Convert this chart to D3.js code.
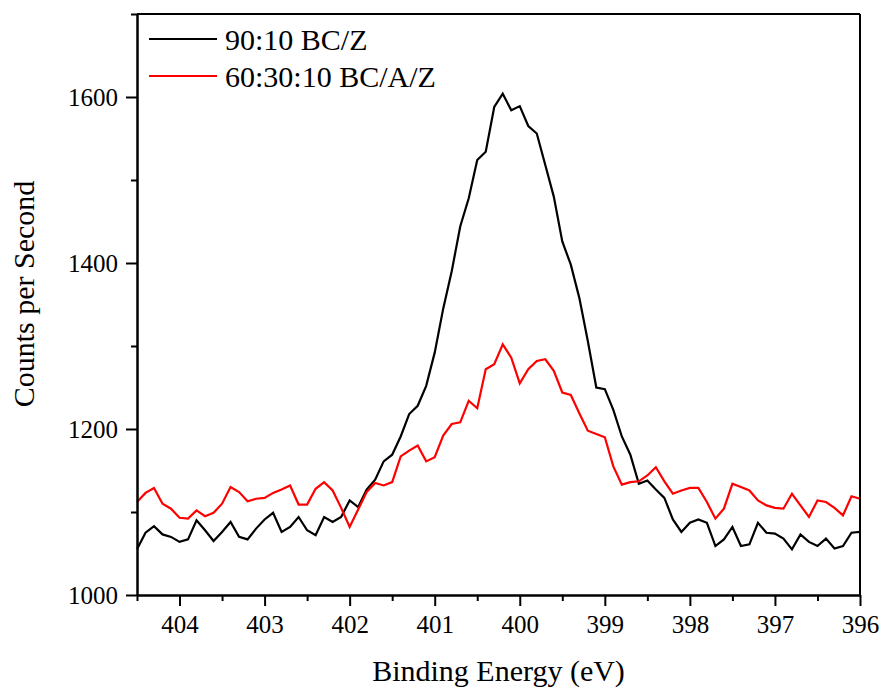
<!DOCTYPE html>
<html>
<head>
<meta charset="utf-8">
<script src="https://cdn.jsdelivr.net/npm/d3@7"></script>
<style>
  html, body { margin: 0; padding: 0; background: #fff; }
  svg { display: block; font-family: "Liberation Serif", "Times New Roman", serif; }
</style>
</head>
<body>
<svg id="chart" width="884" height="689"></svg>
<script>
// Binding energy (eV), 0.1 eV steps
const energy = [
  404.5, 404.4, 404.3, 404.2, 404.1, 404.0, 403.9, 403.8, 403.7, 403.6,
  403.5, 403.4, 403.3, 403.2, 403.1, 403.0, 402.9, 402.8, 402.7, 402.6,
  402.5, 402.4, 402.3, 402.2, 402.1, 402.0, 401.9, 401.8, 401.7, 401.6,
  401.5, 401.4, 401.3, 401.2, 401.1, 401.0, 400.9, 400.8, 400.7, 400.6,
  400.5, 400.4, 400.3, 400.2, 400.1, 400.0, 399.9, 399.8, 399.7, 399.6,
  399.5, 399.4, 399.3, 399.2, 399.1, 399.0, 398.9, 398.8, 398.7, 398.6,
  398.5, 398.4, 398.3, 398.2, 398.1, 398.0, 397.9, 397.8, 397.7, 397.6,
  397.5, 397.4, 397.3, 397.2, 397.1, 397.0, 396.9, 396.8, 396.7, 396.6,
  396.5, 396.4, 396.3, 396.2, 396.1, 396.0
];

// Counts per second, 90:10 BC/Z
const cpsBCZ = [
  1055, 1075, 1083, 1073, 1070, 1064, 1067, 1090, 1078, 1065,
  1076, 1088, 1070, 1067, 1080, 1091, 1099, 1076, 1082, 1094,
  1078, 1072, 1094, 1088, 1094, 1114, 1106, 1127, 1139, 1161,
  1169, 1191, 1218, 1228, 1252, 1292, 1345, 1390, 1444, 1478,
  1524, 1534, 1588, 1604, 1584, 1589, 1565, 1556, 1518, 1480,
  1426, 1398, 1358, 1306, 1250, 1248, 1223, 1191, 1169, 1134,
  1138, 1127, 1117, 1091, 1076, 1087, 1091, 1087, 1059, 1067,
  1082, 1059, 1061, 1087, 1075, 1074, 1068, 1055, 1073, 1064,
  1059, 1068, 1056, 1059, 1075, 1076
];

// Counts per second, 60:30:10 BC/A/Z
const cpsBCAZ = [
  1112, 1123, 1129, 1110, 1104, 1093, 1092, 1102, 1095, 1099,
  1110, 1130, 1124, 1113, 1116, 1117, 1123, 1127, 1132, 1109,
  1109, 1128, 1136, 1126, 1105, 1082, 1103, 1124, 1135, 1132,
  1136, 1167, 1174, 1180, 1161, 1166, 1192, 1206, 1208, 1234,
  1225, 1272, 1278, 1302, 1286, 1255, 1272, 1282, 1284, 1270,
  1244, 1241, 1219, 1198, 1194, 1190, 1155, 1133, 1136, 1137,
  1144, 1154, 1137, 1122, 1126, 1129, 1129, 1112, 1092, 1104,
  1134, 1130, 1126, 1114, 1108, 1105, 1104, 1122, 1108, 1094,
  1114, 1112, 1105, 1096, 1119, 1116
];

const seriesNames = ["90:10 BC/Z", "60:30:10 BC/A/Z"];
const seriesColors = ["#000000", "#ff0000"];

const xMajorTicks = [404, 403, 402, 401, 400, 399, 398, 397, 396];
const xMinorTicks = [404.5, 403.5, 402.5, 401.5, 400.5, 399.5, 398.5, 397.5, 396.5];
const yMajorTicks = [1000, 1200, 1400, 1600];
const yMinorTicks = [1100, 1300, 1500, 1700];

const xTitle = "Binding Energy (eV)";
const yTitle = "Counts per Second";

const svg = d3.select("#chart");
const plot = { left: 137, right: 860, top: 14, bottom: 595 };

const x = d3.scaleLinear().domain([404.5, 396]).range([plot.left, plot.right]);
const y = d3.scaleLinear().domain([1000, 1700]).range([plot.bottom, plot.top]);

// Series lines
const line = d3.line()
  .x((d, i) => x(energy[i]))
  .y(d => y(d));

[cpsBCZ, cpsBCAZ].forEach((vals, s) => {
  svg.append("path")
    .datum(vals)
    .attr("fill", "none")
    .attr("stroke", seriesColors[s])
    .attr("stroke-width", 2.2)
    .attr("stroke-linejoin", "miter")
    .attr("d", line);
});

// Frame: top and right borders
svg.append("line")
  .attr("x1", plot.left).attr("x2", plot.right)
  .attr("y1", plot.top).attr("y2", plot.top)
  .attr("stroke", "#000").attr("stroke-width", 2);
svg.append("line")
  .attr("x1", plot.right).attr("x2", plot.right)
  .attr("y1", plot.top).attr("y2", plot.bottom)
  .attr("stroke", "#000").attr("stroke-width", 2);

function styleAxis(g, fontSize) {
  g.select(".domain").attr("stroke", "#000").attr("stroke-width", 2);
  g.selectAll(".tick line").attr("stroke", "#000").attr("stroke-width", 2);
  g.selectAll(".tick text")
    .attr("fill", "#000")
    .style("font-family", "'Liberation Serif', 'Times New Roman', serif")
    .style("font-size", fontSize + "px");
}

// X axis
const gxMinor = svg.append("g")
  .attr("transform", `translate(0,${plot.bottom})`)
  .call(d3.axisBottom(x).tickValues(xMinorTicks).tickSize(6).tickSizeOuter(0).tickFormat(""));
styleAxis(gxMinor, 25);
const gx = svg.append("g")
  .attr("transform", `translate(0,${plot.bottom})`)
  .call(d3.axisBottom(x).tickValues(xMajorTicks).tickSize(11).tickSizeOuter(0).tickPadding(9).tickFormat(d3.format("d")));
styleAxis(gx, 25);

// Y axis
const gyMinor = svg.append("g")
  .attr("transform", `translate(${plot.left},0)`)
  .call(d3.axisLeft(y).tickValues(yMinorTicks).tickSize(6).tickSizeOuter(0).tickFormat(""));
styleAxis(gyMinor, 25);
const gy = svg.append("g")
  .attr("transform", `translate(${plot.left},0)`)
  .call(d3.axisLeft(y).tickValues(yMajorTicks).tickSize(11).tickSizeOuter(0).tickPadding(8).tickFormat(d3.format("d")));
styleAxis(gy, 25);

// Axis titles
svg.append("text")
  .attr("x", (plot.left + plot.right) / 2)
  .attr("y", 681)
  .attr("text-anchor", "middle")
  .style("font-size", "30px")
  .attr("fill", "#000")
  .text(xTitle);

svg.append("text")
  .attr("transform", `translate(34,294) rotate(-90)`)
  .attr("text-anchor", "middle")
  .style("font-size", "30px")
  .attr("fill", "#000")
  .text(yTitle);

// Legend
const legend = svg.append("g");
seriesNames.forEach((name, i) => {
  const ly = 39 + i * 37;
  legend.append("line")
    .attr("x1", 149).attr("x2", 217)
    .attr("y1", ly).attr("y2", ly)
    .attr("stroke", seriesColors[i]).attr("stroke-width", 2.2);
  legend.append("text")
    .attr("x", 225).attr("y", ly + 11)
    .style("font-size", "30px")
    .attr("fill", "#000")
    .text(name);
});
</script>
</body>
</html>
